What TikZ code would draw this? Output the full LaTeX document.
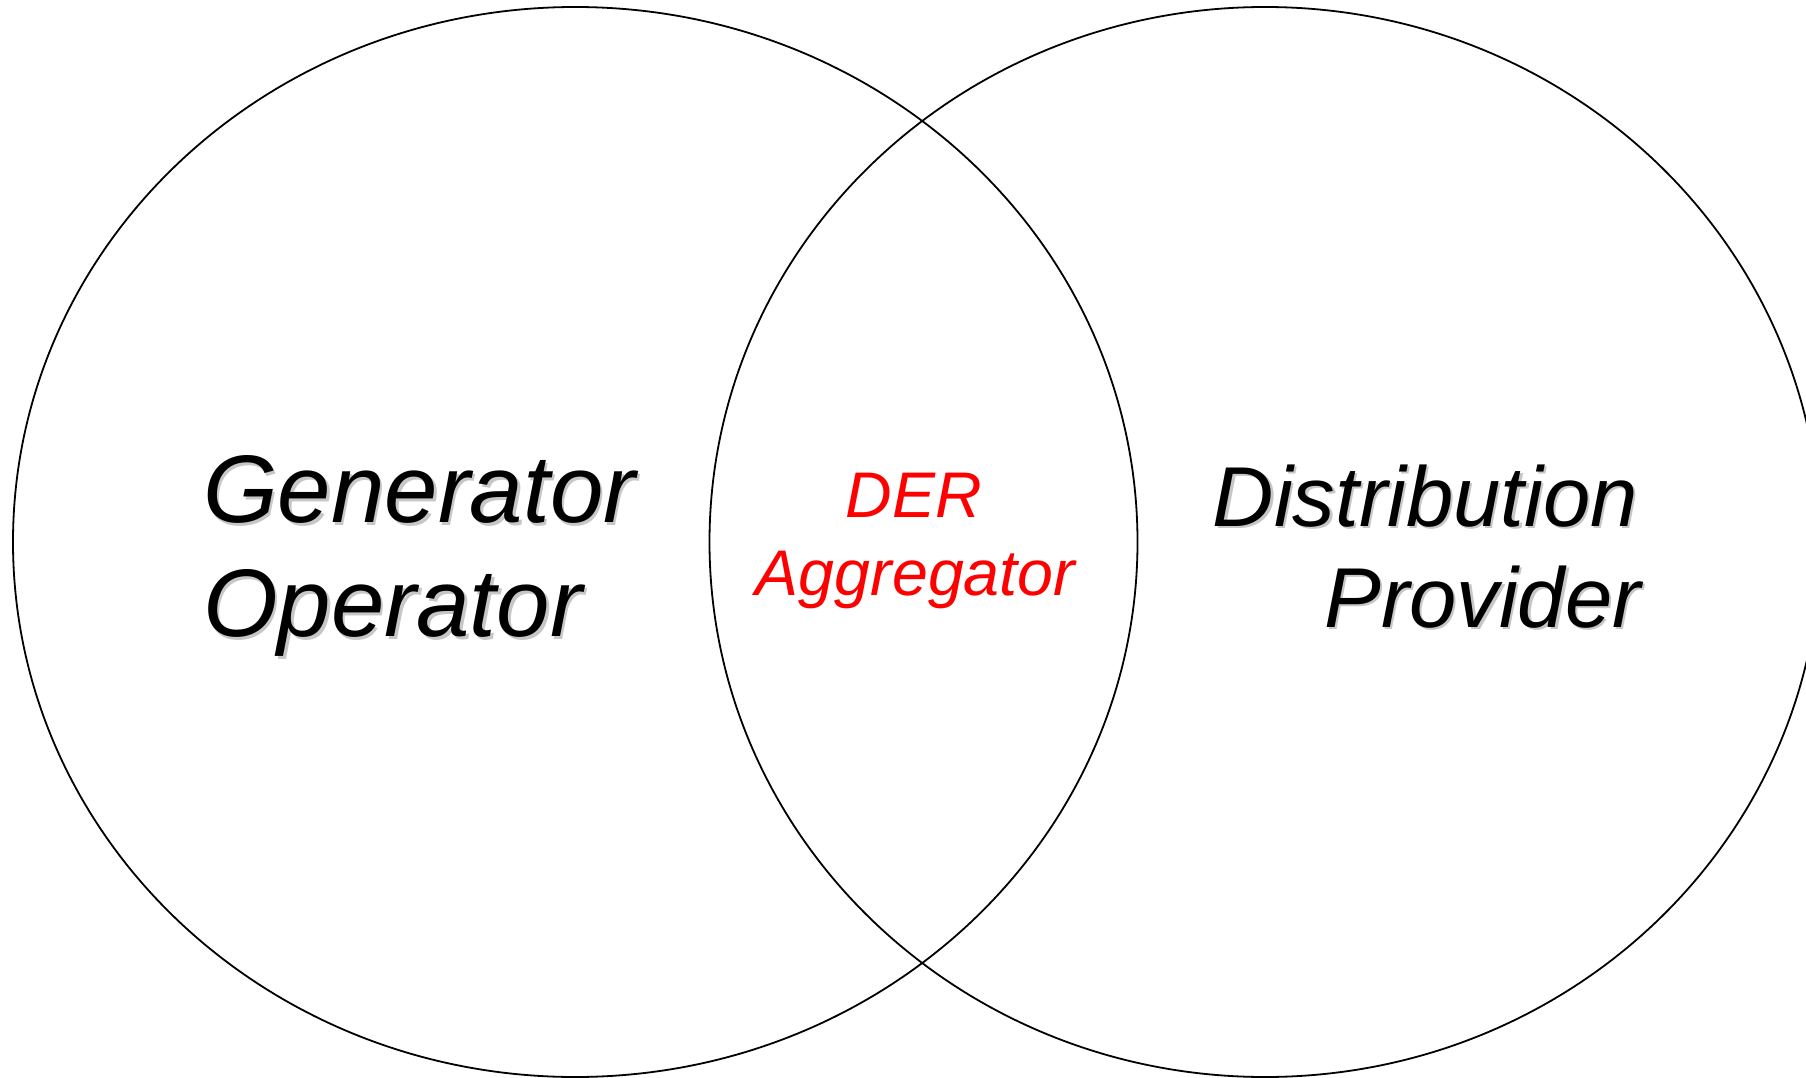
\documentclass[tikz,border=0pt]{standalone}
\usepackage{fontspec}
\setmainfont{Liberation Sans}
\usetikzlibrary{shapes.geometric,calc}
\begin{document}
\begin{tikzpicture}[x=1pt,y=-1pt,
  setring/.style={draw=black, line width=1.8pt, ellipse, inner sep=0pt, outer sep=0pt},
  bigtxt/.style={font=\fontsize{96}{115}\selectfont\itshape, inner sep=0pt, text=black},
  midtxt/.style={font=\fontsize{85}{101}\selectfont\itshape, inner sep=0pt, text=black},
  redtxt/.style={font=\fontsize{64.5}{78}\selectfont\itshape, inner sep=0pt, text=red},
  shade/.style={text=black!22}]
\clip (0,0) rectangle (1806,1078);
\fill[white] (0,0) rectangle (1806,1078);
% sets
\node[setring, minimum width=1124.5pt, minimum height=1070pt] (gen) at (575.25,542) {};
\node[setring, minimum width=1111pt, minimum height=1070pt] (dist) at (1265,542) {};
% left label with shadow
\node[bigtxt, shade, anchor=base west] at (205.5,525) {Generator};
\node[bigtxt, shade, anchor=base west] at (205.5,639) {Operator};
\node[bigtxt, anchor=base west] (gen1) at (203,522.5) {Generator};
\node[bigtxt, anchor=base west] (gen2) at (203,636.5) {Operator};
% right label with shadow
\node[midtxt, shade, anchor=base east] at (1640.5,528.5) {Distribution};
\node[midtxt, shade, anchor=base east] at (1643.5,629.5) {Provider};
\node[midtxt, anchor=base east] (dist1) at (1638,526) {Distribution};
\node[midtxt, anchor=base east] (dist2) at (1641,627) {Provider};
% centre label
\node[redtxt, anchor=base] (der1) at (914,517) {DER};
\node[redtxt, anchor=base] (der2) at (915.5,595) {Aggregator};
\end{tikzpicture}
\end{document}
